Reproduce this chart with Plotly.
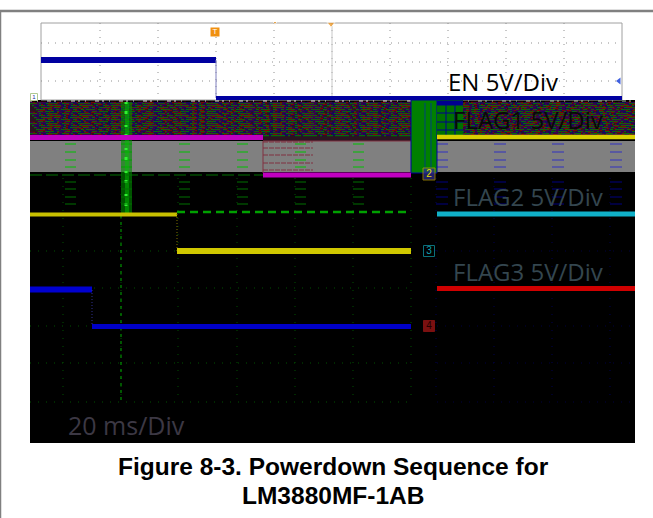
import plotly.graph_objects as go

# All positions are expressed in screen-scope units (x: time axis, y: level axis).
# ---- panels: x0, x1, y0, y1
black_panel = [30, 635, 100, 443]
white_panel = [41, 622, 23, 100]
gray_left = [30, 411, 141, 172]
gray_right = [437, 635, 141, 172]
noise_left_bg = [30, 411, 102, 135]
noise_mid_bg = [263, 411, 135, 141]
noise_right_bg = [437, 635, 102, 135]
green_block = [411, 437, 100, 173]
green_corner = [437, 463, 100, 135]
green_burst = [121, 132, 102, 215]
green_core = [125, 129, 102, 215]
black_gap = [411, 437, 173, 443]

# ---- traces
en_x = [41, 216, 216, 622]
en_y = [60, 60, 98, 98]
flag1_a_x = [30, 263]
flag1_a_y = [137.5, 137.5]
flag1_b_x = [263, 411]
flag1_b_y = [175, 175]
flag1_r_x = [437, 635]
flag1_r_y = [137, 137]
flag2_x = [30, 177]
flag2_y = [214.5, 214.5]
flag2b_x = [177, 411]
flag2b_y = [251, 251]
fdash_x = [177, 411]
fdash_y = [212, 212]
cyan_x = [437, 635]
cyan_y = [214, 214]
blue_a_x = [30, 92]
blue_a_y = [289.5, 289.5]
blue_b_x = [92, 411]
blue_b_y = [326.5, 326.5]
red_x = [437, 635]
red_y = [288.5, 288.5]

grid_x_white = [100, 158, 216, 274, 332, 390, 448, 506, 564]
grid_y_white = [43, 62, 81]
grid_x_green = [63, 121, 178, 237, 295, 353, 411]
grid_y_green = [251, 288, 326, 363, 402]
grid_x_blue = [436, 494, 552, 610]
grid_y_blue = [251, 326, 363, 402]
dash_rows = [144, 152, 160, 167]
dash_x_green = [65, 121, 179, 237, 295, 353]
dash_x_blue = [436, 494, 552, 610]
noise_rows = [103, 105, 107, 109, 111, 113, 115, 117, 119, 121, 123, 125, 127, 129, 131, 133, 135]
stripe_rows = [142, 148, 155, 163, 170]
low_rows = [182, 189, 197, 204]
speckle_rows = [101]

labels = ["EN 5V/Div", "FLAG1 5V/Div", "FLAG2 5V/Div", "FLAG3 5V/Div", "20 ms/Div"]
caption = ["Figure 8-3. Powerdown Sequence for", "LM3880MF-1AB"]

fig = go.Figure()


def box(b, color, line=None):
    fig.add_trace(go.Scatter(
        x=[b[0], b[1], b[1], b[0], b[0]], y=[b[2], b[2], b[3], b[3], b[2]],
        mode="lines", fill="toself", fillcolor=color,
        line=dict(color=line or color, width=1 if line else 0), hoverinfo="skip"))


def line(xs, ys, color, w, dash=None):
    fig.add_trace(go.Scatter(x=xs, y=ys, mode="lines", hoverinfo="skip",
                             line=dict(color=color, width=w, dash=dash, shape="linear")))


box(black_panel, "#000000")
box(white_panel, "#ffffff", "#a0a0a0")
for v in grid_x_white:
    line([v, v], [23, 100], "#909090", 1, "1px,6px")
line([332, 332], [23, 100], "#c8c8c8", 1)
for h in grid_y_white:
    line([41, 622], [h, h], "#909090", 1, "1px,6px")

# noise bands
box(noise_left_bg, "#281420")
box(noise_right_bg, "#281420")
box(noise_mid_bg, "#281420")
dashes = ["5px,2px,9px,3px,2px,6px", "3px,4px,11px,2px,6px,3px", "7px,2px,2px,5px,12px,4px",
          "9px,3px,4px,4px,3px,2px", "2px,5px,6px,2px,14px,3px"]
for i, r in enumerate(noise_rows):
    for j, (col, off) in enumerate([("#8c0000", -0.7), ("#000090", 0), ("#008000", 0.7)]):
        d = dashes[(i * 2 + j) % 5]
        line([30 + (i % 5) * 2, 411], [r + off, r + off], col, 1, d)
        line([437 + (i % 4) * 3, 635], [r + off, r + off], col, 1, d)
for r in speckle_rows:
    line([30, 411], [r, r], "#e0e0e0", 1, "2px,5px,1px,9px,4px,3px")
    line([437, 635], [r, r], "#a0c0a0", 1, "2px,5px,1px,9px,4px,3px")

box(gray_left, "#808080")
box(gray_right, "#808080")
for r in stripe_rows:
    line([263, 313], [r, r], "#803040", 1, "5px,1px")
line([263, 411], [141, 141], "#803040", 1)
line([263, 263], [141, 173], "#803040", 1)
for r in dash_rows:
    for v in dash_x_green:
        line([v, v + 11], [r, r], "#00c000", 1)
    for v in dash_x_blue:
        line([v, v + 12], [r, r], "#3030c0", 1)

# green burst and block
box(green_burst, "rgba(0,140,0,0.6)")
box(green_core, "rgba(0,200,0,0.45)")
line([126, 126], [102, 215], "#30f030", 3, "2px,7px,3px,11px")
box(black_gap, "#000000")
box(green_block, "#008000", "#0000a0")
line([425, 425], [103, 173], "#004080", 1)
line([431, 431], [103, 173], "#004080", 1)
box(green_corner, "#007000")
line([437, 463], [103, 103], "#000090", 5)
line([446, 446], [105, 135], "#000090", 1)
line([455, 455], [105, 135], "#000090", 1)
for r in [113, 122, 130]:
    line([437, 463], [r, r], "#000090", 1)

# green scope grid on black
for v in grid_x_green:
    line([v, v], [178, 402], "#005000", 1, "1px,7px")
for h in grid_y_green:
    line([30, 411], [h, h], "#005000", 1, "1px,7px")
for v in grid_x_blue:
    line([v, v], [178, 402], "#000050", 1, "1px,7px")
for h in grid_y_blue:
    line([437, 635], [h, h], "#000040", 1, "1px,7px")
line([121, 121], [215, 402], "#009000", 1.2, "3px,4px")
line([30, 263], [175, 175], "#007000", 1, "12px,4px")
for r in low_rows:
    for v in dash_x_green:
        line([v, v + 11], [r, r], "#007000", 1)
    for v in dash_x_blue:
        line([v, v + 12], [r, r], "#000080", 1)

# signal traces
line(en_x[:2], [60, 60], "#0000a0", 6)
line(en_x[1:3], [60, 98], "#8080c0", 1)
line(en_x[2:], [98, 98], "#0000a0", 4)
line(flag1_a_x, flag1_a_y, "#c000c0", 5)
line(flag1_b_x, flag1_b_y, "#c000c0", 5)
line(flag1_r_x, flag1_r_y, "#d8d000", 4.5)
line(flag2_x, flag2_y, "#c8c000", 4)
line([177, 177], [214, 251], "#807000", 1, "1px,2px")
line(flag2b_x, flag2b_y, "#d0c800", 6)
line(fdash_x, fdash_y, "#00a000", 2.5, "8px,5px")
line(cyan_x, cyan_y, "#10b0c8", 5)
line(blue_a_x, blue_a_y, "#0000d0", 6)
line([92, 92], [290, 326], "#303090", 1, "1px,2px")
line(blue_b_x, blue_b_y, "#0000c8", 5)
line(red_x, red_y, "#d00000", 5)

# markers
fig.add_trace(go.Scatter(x=[331, 275], y=[24, 22.5], mode="markers", hoverinfo="skip",
                         marker=dict(symbol="triangle-down", size=[7, 4], color="#f09010")))
fig.add_trace(go.Scatter(x=[619], y=[81], mode="markers", hoverinfo="skip",
                         marker=dict(symbol="triangle-left", size=6, color="#4060e0")))
fig.add_trace(go.Scatter(x=[429, 429, 429], y=[174, 251, 326], mode="markers+text", hoverinfo="skip",
                         text=["2", "3", "4"], textposition="middle center",
                         textfont=dict(family="Liberation Sans", size=10, color=["#e8e000", "#10a0b0", "#200000"]),
                         marker=dict(symbol="square", size=[12, 11, 11],
                                     color=["#303090", "#000000", "#b01818"],
                                     line=dict(color=["#c0a000", "#10a0b0", "#b01818"], width=1))))
fig.add_trace(go.Scatter(x=[34], y=[97], mode="markers+text", hoverinfo="skip", text=["1"],
                         textposition="middle center",
                         textfont=dict(family="Liberation Sans", size=6, color="#2030a0"),
                         marker=dict(symbol="square", size=7, color="#ffffff",
                                     line=dict(color="#b0c890", width=1))))
fig.add_trace(go.Scatter(x=[215], y=[32], mode="markers+text", hoverinfo="skip", text=["T"],
                         textposition="middle center",
                         textfont=dict(family="Liberation Sans", size=8, color="#ffffff"),
                         marker=dict(symbol="square", size=9, color="#f09010")))

# frame
line([0, 653], [11, 11], "#808080", 2.5)
line([0.5, 0.5], [11, 518], "#808080", 1.5)

ann = [
    (labels[0], 503, 81, "#000000", 24),
    (labels[1], 528, 119, "#080808", 24),
    (labels[2], 528, 196, "#34464f", 24),
    (labels[3], 528, 271, "#34464f", 24),
    (labels[4], 126, 425, "#3c3844", 25),
]
annotations = [dict(x=x, y=y, text=t, showarrow=False, xref="x", yref="y",
                    font=dict(family="Open Sans", size=s, color=c)) for t, x, y, c, s in ann]
annotations += [dict(x=333, y=y, text=t, showarrow=False, xref="x", yref="y",
                     font=dict(family="Liberation Sans", size=24.5, color="#000000"))
                for t, y in zip(["<b>%s</b>" % c for c in caption], [466, 495])]

fig.update_layout(
    width=653, height=518, margin=dict(l=0, r=0, t=0, b=0), showlegend=False,
    plot_bgcolor="#ffffff", paper_bgcolor="#ffffff", annotations=annotations,
    xaxis=dict(range=[0, 653], visible=False, fixedrange=True),
    yaxis=dict(range=[518, 0], visible=False, fixedrange=True),
)
fig.write_html("out.html", config=dict(displayModeBar=False),
               post_script="document.body.style.margin='0';document.body.style.overflow='hidden';")
